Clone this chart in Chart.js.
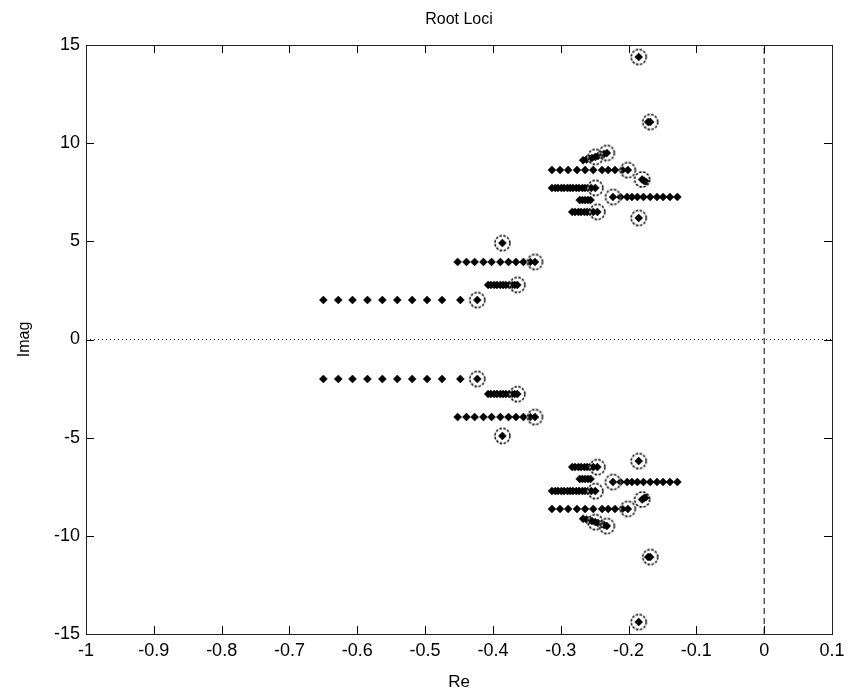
<!DOCTYPE html>
<html>
<head>
<meta charset="utf-8">
<title>Root Loci</title>
<script src="https://cdn.jsdelivr.net/npm/chart.js@4"></script>
<style>
  html, body { margin: 0; padding: 0; background: #fff; }
  #chart { display: block; }
</style>
</head>
<body>
<canvas id="chart" width="851" height="700"></canvas>
<script>
// axis limits / ticks
const xMin = -1, xMax = 0.1, xStep = 0.1;
const yMin = -15, yMax = 15, yStep = 5;

// horizontal locus branches: Re of each plotted root
const branch1Re = [-0.650, -0.628, -0.607, -0.585, -0.563, -0.541, -0.519, -0.497, -0.475, -0.448, -0.423];
const branch2Re = [-0.407, -0.403, -0.398, -0.394, -0.389, -0.385, -0.381, -0.376, -0.372, -0.368, -0.364];
const branch3Re = [-0.452, -0.439, -0.427, -0.414, -0.402, -0.389, -0.377, -0.366, -0.355, -0.345, -0.338];
const branch4Re = [-0.283, -0.279, -0.274, -0.270, -0.265, -0.261, -0.257, -0.252, -0.246];
const branch5Re = [-0.272, -0.268, -0.264, -0.260, -0.256];
const branch6Re = [-0.223, -0.212, -0.202, -0.195, -0.187, -0.178, -0.168, -0.158, -0.149, -0.139, -0.128];
const branch7Re = [-0.313, -0.308, -0.304, -0.299, -0.295, -0.290, -0.286, -0.282, -0.277, -0.273, -0.268, -0.264, -0.260, -0.255, -0.249];
const branch8Re = [-0.313, -0.301, -0.289, -0.276, -0.264, -0.252, -0.239, -0.230, -0.220, -0.209, -0.201];
// |Im| of each branch above (drawn at +Im and -Im)
const branchIm = [2.01, 2.78, 3.95, 6.50, 7.10, 7.26, 7.72, 8.63];

// other roots that are not on a horizontal line [Re, Im]
const clusterPts = [
  [-0.267, 9.13], [-0.262, 9.17], [-0.258, 9.21], [-0.254, 9.25], [-0.249, 9.30],
  [-0.245, 9.35], [-0.240, 9.40], [-0.236, 9.45], [-0.232, 9.50],
  [-0.267, -9.13], [-0.262, -9.17], [-0.258, -9.21], [-0.254, -9.25], [-0.249, -9.30],
  [-0.245, -9.35], [-0.240, -9.40], [-0.236, -9.45], [-0.232, -9.50],
  [-0.180, 8.15], [-0.177, 8.08], [-0.174, 8.02],
  [-0.180, -8.15], [-0.177, -8.08], [-0.174, -8.02],
  [-0.171, 11.08], [-0.168, 11.08], [-0.171, -11.08], [-0.168, -11.08],
  [-0.386, 4.91], [-0.386, -4.91],
  [-0.185, 6.19], [-0.185, -6.19],
  [-0.185, 14.39], [-0.185, -14.39]
];

// circled roots [Re, Im]
const circledPts = [
  [-0.423, 2.01], [-0.423, -2.01],
  [-0.364, 2.78], [-0.364, -2.78],
  [-0.338, 3.95], [-0.338, -3.95],
  [-0.386, 4.91], [-0.386, -4.91],
  [-0.246, 6.50], [-0.246, -6.50],
  [-0.185, 6.19], [-0.185, -6.19],
  [-0.223, 7.26], [-0.223, -7.26],
  [-0.249, 7.72], [-0.249, -7.72],
  [-0.180, 8.15], [-0.180, -8.15],
  [-0.201, 8.63], [-0.201, -8.63],
  [-0.249, 9.30], [-0.249, -9.30],
  [-0.232, 9.50], [-0.232, -9.50],
  [-0.168, 11.08], [-0.168, -11.08],
  [-0.185, 14.39], [-0.185, -14.39]
];

Chart.defaults.font.family = "'Liberation Sans', Arial, sans-serif";
Chart.defaults.color = '#000';

function makeRing(r) {
  const c = document.createElement('canvas');
  const s = Math.ceil(r * 2 + 4);
  c.width = s;
  c.height = s;
  const g = c.getContext('2d');
  g.lineWidth = 1.5;
  g.strokeStyle = '#fff';
  g.beginPath();
  g.arc(s / 2, s / 2, r, 0, Math.PI * 2);
  g.stroke();
  g.setLineDash([2.5, 1.5]);
  g.strokeStyle = '#000';
  g.beginPath();
  g.arc(s / 2, s / 2, r, 0, Math.PI * 2);
  g.stroke();
  return c;
}

const rows = [branch1Re, branch2Re, branch3Re, branch4Re, branch5Re, branch6Re, branch7Re, branch8Re];
const rootPts = [];
rows.forEach((reList, i) => {
  [branchIm[i], -branchIm[i]].forEach(im => {
    reList.forEach(re => rootPts.push({ x: re, y: im }));
  });
});
clusterPts.forEach(p => rootPts.push({ x: p[0], y: p[1] }));

// box + inward tick marks on all four sides, like the matlab axes
const boxPlugin = {
  id: 'box',
  afterDraw(chart) {
    const { ctx, chartArea: a, scales } = chart;
    const len = 8;
    ctx.save();
    ctx.strokeStyle = '#000';
    ctx.lineWidth = 1;
    ctx.beginPath();
    scales.x.ticks.forEach(t => {
      const px = Math.round(scales.x.getPixelForValue(t.value)) + 0.5;
      ctx.moveTo(px, a.bottom); ctx.lineTo(px, a.bottom - len);
      ctx.moveTo(px, a.top); ctx.lineTo(px, a.top + len);
    });
    scales.y.ticks.forEach(t => {
      const py = Math.round(scales.y.getPixelForValue(t.value)) + 0.5;
      ctx.moveTo(a.left, py); ctx.lineTo(a.left + len, py);
      ctx.moveTo(a.right, py); ctx.lineTo(a.right - len, py);
    });
    ctx.stroke();
    ctx.strokeStyle = '#222';
    ctx.strokeRect(Math.round(a.left) + 0.5, Math.round(a.top) + 0.5,
      Math.round(a.right - a.left), Math.round(a.bottom - a.top));
    ctx.fillStyle = '#000';
    ctx.font = "16px 'Liberation Sans', Arial, sans-serif";
    ctx.textAlign = 'center';
    ctx.textBaseline = 'middle';
    ctx.fillText('Root Loci', (a.left + a.right) / 2, 20);
    ctx.restore();
  }
};

const fmt = v => String(Math.round(v * 10) / 10);

const ctx = document.getElementById('chart');
new Chart(ctx, {
  type: 'scatter',
  data: {
    datasets: [
      {
        label: 'closed-loop',
        data: circledPts.map(p => ({ x: p[0], y: p[1] })),
        pointStyle: makeRing(7.5),
        pointRadius: 7.5,
        order: 1
      },
      {
        label: 'roots',
        data: rootPts,
        pointStyle: 'rectRot',
        pointRadius: 4,
        backgroundColor: '#000',
        borderColor: '#000',
        borderWidth: 0.5,
        order: 2
      },
      {
        label: 'real axis',
        data: [{ x: xMin, y: 0 }, { x: xMax, y: 0 }],
        showLine: true,
        pointRadius: 0,
        borderColor: '#000',
        borderWidth: 1,
        borderDash: [1, 3],
        order: 3
      },
      {
        label: 'imag axis',
        data: [{ x: 0, y: yMin }, { x: 0, y: yMax }],
        showLine: true,
        pointRadius: 0,
        borderColor: '#000',
        borderWidth: 1,
        borderDash: [6, 4],
        order: 3
      }
    ]
  },
  options: {
    responsive: false,
    animation: false,
    events: [],
    layout: { padding: { top: 45, right: 19, left: 0, bottom: 0 } },
    plugins: {
      legend: { display: false },
      tooltip: { enabled: false },
      title: { display: false }
    },
    scales: {
      x: {
        type: 'linear',
        min: xMin,
        max: xMax,
        grid: { display: false, drawTicks: false },
        border: { display: false },
        ticks: { stepSize: xStep, padding: 6, maxRotation: 0, font: { size: 18 }, callback: fmt },
        title: { display: true, text: 'Re', font: { size: 17 }, padding: { top: 0, bottom: 7 } },
        afterFit(s) { s.height = 66; }
      },
      y: {
        type: 'linear',
        min: yMin,
        max: yMax,
        grid: { display: false, drawTicks: false },
        border: { display: false },
        ticks: { stepSize: yStep, padding: 6, font: { size: 18 }, callback: fmt },
        title: { display: true, text: 'Imag', font: { size: 16 }, padding: { top: 15, bottom: 0 } },
        afterFit(s) { s.width = 86; }
      }
    }
  },
  plugins: [boxPlugin]
});
</script>
</body>
</html>
